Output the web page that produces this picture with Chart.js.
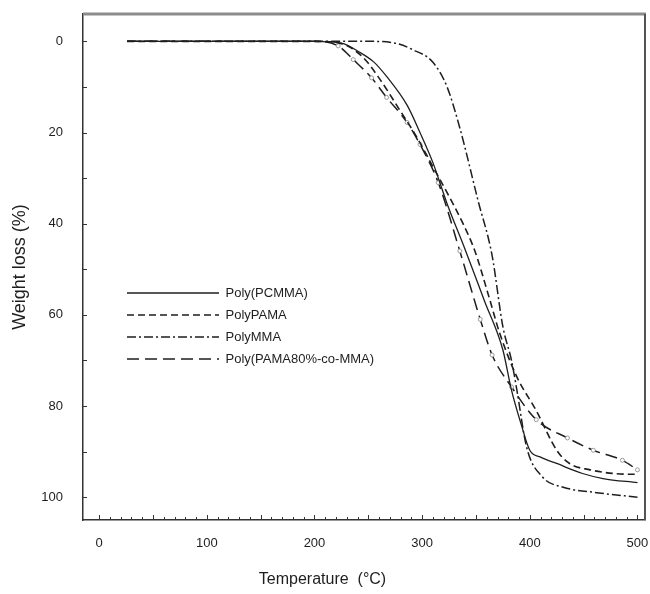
<!DOCTYPE html>
<html><head><meta charset="utf-8">
<script src="https://cdn.jsdelivr.net/npm/chart.js@4.4.1/dist/chart.umd.min.js"></script>
<style>html,body{margin:0;padding:0;background:#fff}canvas{display:block}</style>
</head><body>
<canvas id="c" width="650" height="594"></canvas>
<script>
// ---- data ----
const seriesNames = ['Poly(PCMMA)', 'PolyPAMA', 'PolyMMA', 'Poly(PAMA80%-co-MMA)'];

const pcmmaTemp = [26, 60, 100, 150, 200, 225, 242, 255, 267, 286, 298, 310, 323, 340, 358, 375, 383, 392, 400, 410, 425, 449, 468, 500];
const pcmmaLoss = [0, 0, 0, 0, 0, 0.4, 2.4, 4.5, 7.7, 14, 20, 26.6, 35.5, 45.7, 57, 67.7, 76.5, 84, 89.7, 91.2, 92.6, 94.8, 95.9, 96.8];

const pamaTemp = [26, 60, 100, 150, 200, 225, 245, 261, 279, 295, 310, 325, 338, 349, 362, 372, 388, 406, 425, 437, 456, 478, 500];
const pamaLoss = [0, 0, 0, 0, 0, 0.5, 3.5, 8.4, 15, 21, 27.5, 34, 40, 46, 56, 64, 73.6, 81, 89.7, 92.6, 94, 94.8, 95];

const mmaTemp = [26, 60, 100, 150, 200, 250, 273, 291, 310, 323, 335, 352, 365, 375, 383, 388, 397, 412, 431, 462, 500];
const mmaLoss = [0, 0, 0, 0, 0, 0, 0.3, 1.8, 4.6, 9.9, 19, 35, 47, 62.6, 70, 76.5, 89, 95.6, 97.8, 99, 100];

const copoTemp = [26, 60, 100, 150, 200, 222, 236, 253, 267, 286, 298, 315, 335, 354, 365, 383, 406, 435, 459, 486, 500];
const copoLoss = [0, 0, 0, 0, 0, 1, 4, 8, 12.3, 17.8, 22.6, 31, 46, 61, 68.8, 75.8, 83, 87, 89.7, 91.9, 94];

const xTickValues = [0, 100, 200, 300, 400, 500];
const yTickValues = [0, 20, 40, 60, 80, 100];

// ---- helpers ----
const toPoints = (xs, ys) => xs.map((x, i) => ({x: x, y: ys[i]}));
const FONT = "'Liberation Sans', Arial, sans-serif";
const INK = '#1e1e1e';

const placeLegend = {
  id: 'placeLegend',
  afterLayout(chart) {
    const lg = chart.legend;
    if (!lg) return;
    const a = chart.chartArea;
    const w = lg.width, h = lg.height;
    lg.left = a.left + 35;
    lg.top = a.top + 263.5;
    lg.right = lg.left + w;
    lg.bottom = lg.top + h;
  }
};

const frameAndTicks = {
  id: 'frameAndTicks',
  afterDraw(chart) {
    const {ctx, chartArea: a, scales: {x, y}} = chart;
    ctx.save();
    ctx.strokeStyle = '#333';
    ctx.lineWidth = 1;
    ctx.beginPath();
    for (let v = 0; v <= 500; v += 10) {
      const px = Math.round(x.getPixelForValue(v)) + 0.5;
      const len = v % 50 === 0 ? 5 : 3;
      ctx.moveTo(px, a.bottom);
      ctx.lineTo(px, a.bottom - len);
    }
    for (let v = 0; v <= 100; v += 10) {
      const py = Math.round(y.getPixelForValue(v)) + 0.5;
      ctx.moveTo(a.left, py);
      ctx.lineTo(a.left + 4, py);
    }
    ctx.stroke();
    ctx.strokeStyle = '#8c8c8c';
    ctx.lineWidth = 3;
    ctx.beginPath();
    ctx.moveTo(a.left, a.top);
    ctx.lineTo(a.right + 1, a.top);
    ctx.stroke();
    ctx.strokeStyle = '#555';
    ctx.lineWidth = 2;
    ctx.beginPath();
    ctx.moveTo(a.right, a.top);
    ctx.lineTo(a.right, a.bottom);
    ctx.stroke();
    ctx.restore();
  }
};

new Chart(document.getElementById('c'), {
  type: 'line',
  data: {
    datasets: [
      {label: seriesNames[0], data: toPoints(pcmmaTemp, pcmmaLoss), borderColor: INK, borderWidth: 1.3, borderDash: [], pointRadius: 0},
      {label: seriesNames[1], data: toPoints(pamaTemp, pamaLoss), borderColor: INK, borderWidth: 1.6, borderDash: [7, 4], pointRadius: 0},
      {label: seriesNames[2], data: toPoints(mmaTemp, mmaLoss), borderColor: INK, borderWidth: 1.5, borderDash: [9, 3, 2, 3], pointRadius: 0},
      {label: seriesNames[3], data: toPoints(copoTemp, copoLoss), borderColor: INK, borderWidth: 1.5, borderDash: [12, 6],
        pointRadius: c => (c.raw && c.raw.x > 215 ? 2 : 0), pointBackgroundColor: '#fff', pointBorderColor: '#9a9a9a', pointBorderWidth: 1}
    ]
  },
  options: {
    responsive: false,
    devicePixelRatio: 1,
    animation: false,
    events: [],
    cubicInterpolationMode: 'monotone',
    layout: {padding: {top: 14, right: 5, left: 0, bottom: 0}},
    scales: {
      x: {
        type: 'linear', min: -15, max: 507,
        afterBuildTicks: s => { s.ticks = xTickValues.map(v => ({value: v})); },
        afterFit: s => { s.height = 49.8; s.paddingLeft = 0; s.paddingRight = 0; },
        grid: {display: true, drawOnChartArea: false, drawTicks: false},
        border: {display: true, color: '#333', width: 1.5},
        ticks: {padding: 16, color: INK, font: {family: FONT, size: 13}, maxRotation: 0}
      },
      y: {
        type: 'linear', reverse: true, min: -6, max: 105,
        afterBuildTicks: s => { s.ticks = yTickValues.map(v => ({value: v})); },
        afterFit: s => { s.width = 83; s.paddingTop = 0; s.paddingBottom = 0; },
        grid: {display: true, drawOnChartArea: false, drawTicks: false},
        border: {display: true, color: '#333', width: 1.5},
        ticks: {padding: 20, color: INK, font: {family: FONT, size: 13}},
        title: {display: true, text: 'Weight loss (%)', color: INK, font: {family: FONT, size: 18, weight: 'normal'}, padding: {top: 9, bottom: 0}}
      }
    },
    plugins: {
      tooltip: {enabled: false},
      title: {display: true, position: 'bottom', text: 'Temperature  (°C)', color: INK,
        font: {family: FONT, size: 16, weight: 'normal'}, padding: {top: 0, bottom: 5}},
      legend: {
        display: true, position: 'chartArea', align: 'start',
        labels: {
          color: INK, font: {family: FONT, size: 13}, padding: 9,
          usePointStyle: true, pointStyle: 'line', pointStyleWidth: 92,
          generateLabels(chart) {
            const items = Chart.defaults.plugins.legend.labels.generateLabels(chart);
            items.forEach(it => {
              const ds = chart.data.datasets[it.datasetIndex];
              it.lineDash = ds.borderDash || [];
              it.lineWidth = ds.borderWidth;
              it.strokeStyle = ds.borderColor;
              it.fillStyle = ds.borderColor;
              it.pointStyle = 'line';
            });
            return items;
          }
        }
      }
    }
  },
  plugins: [placeLegend, frameAndTicks]
});
</script>
</body></html>
